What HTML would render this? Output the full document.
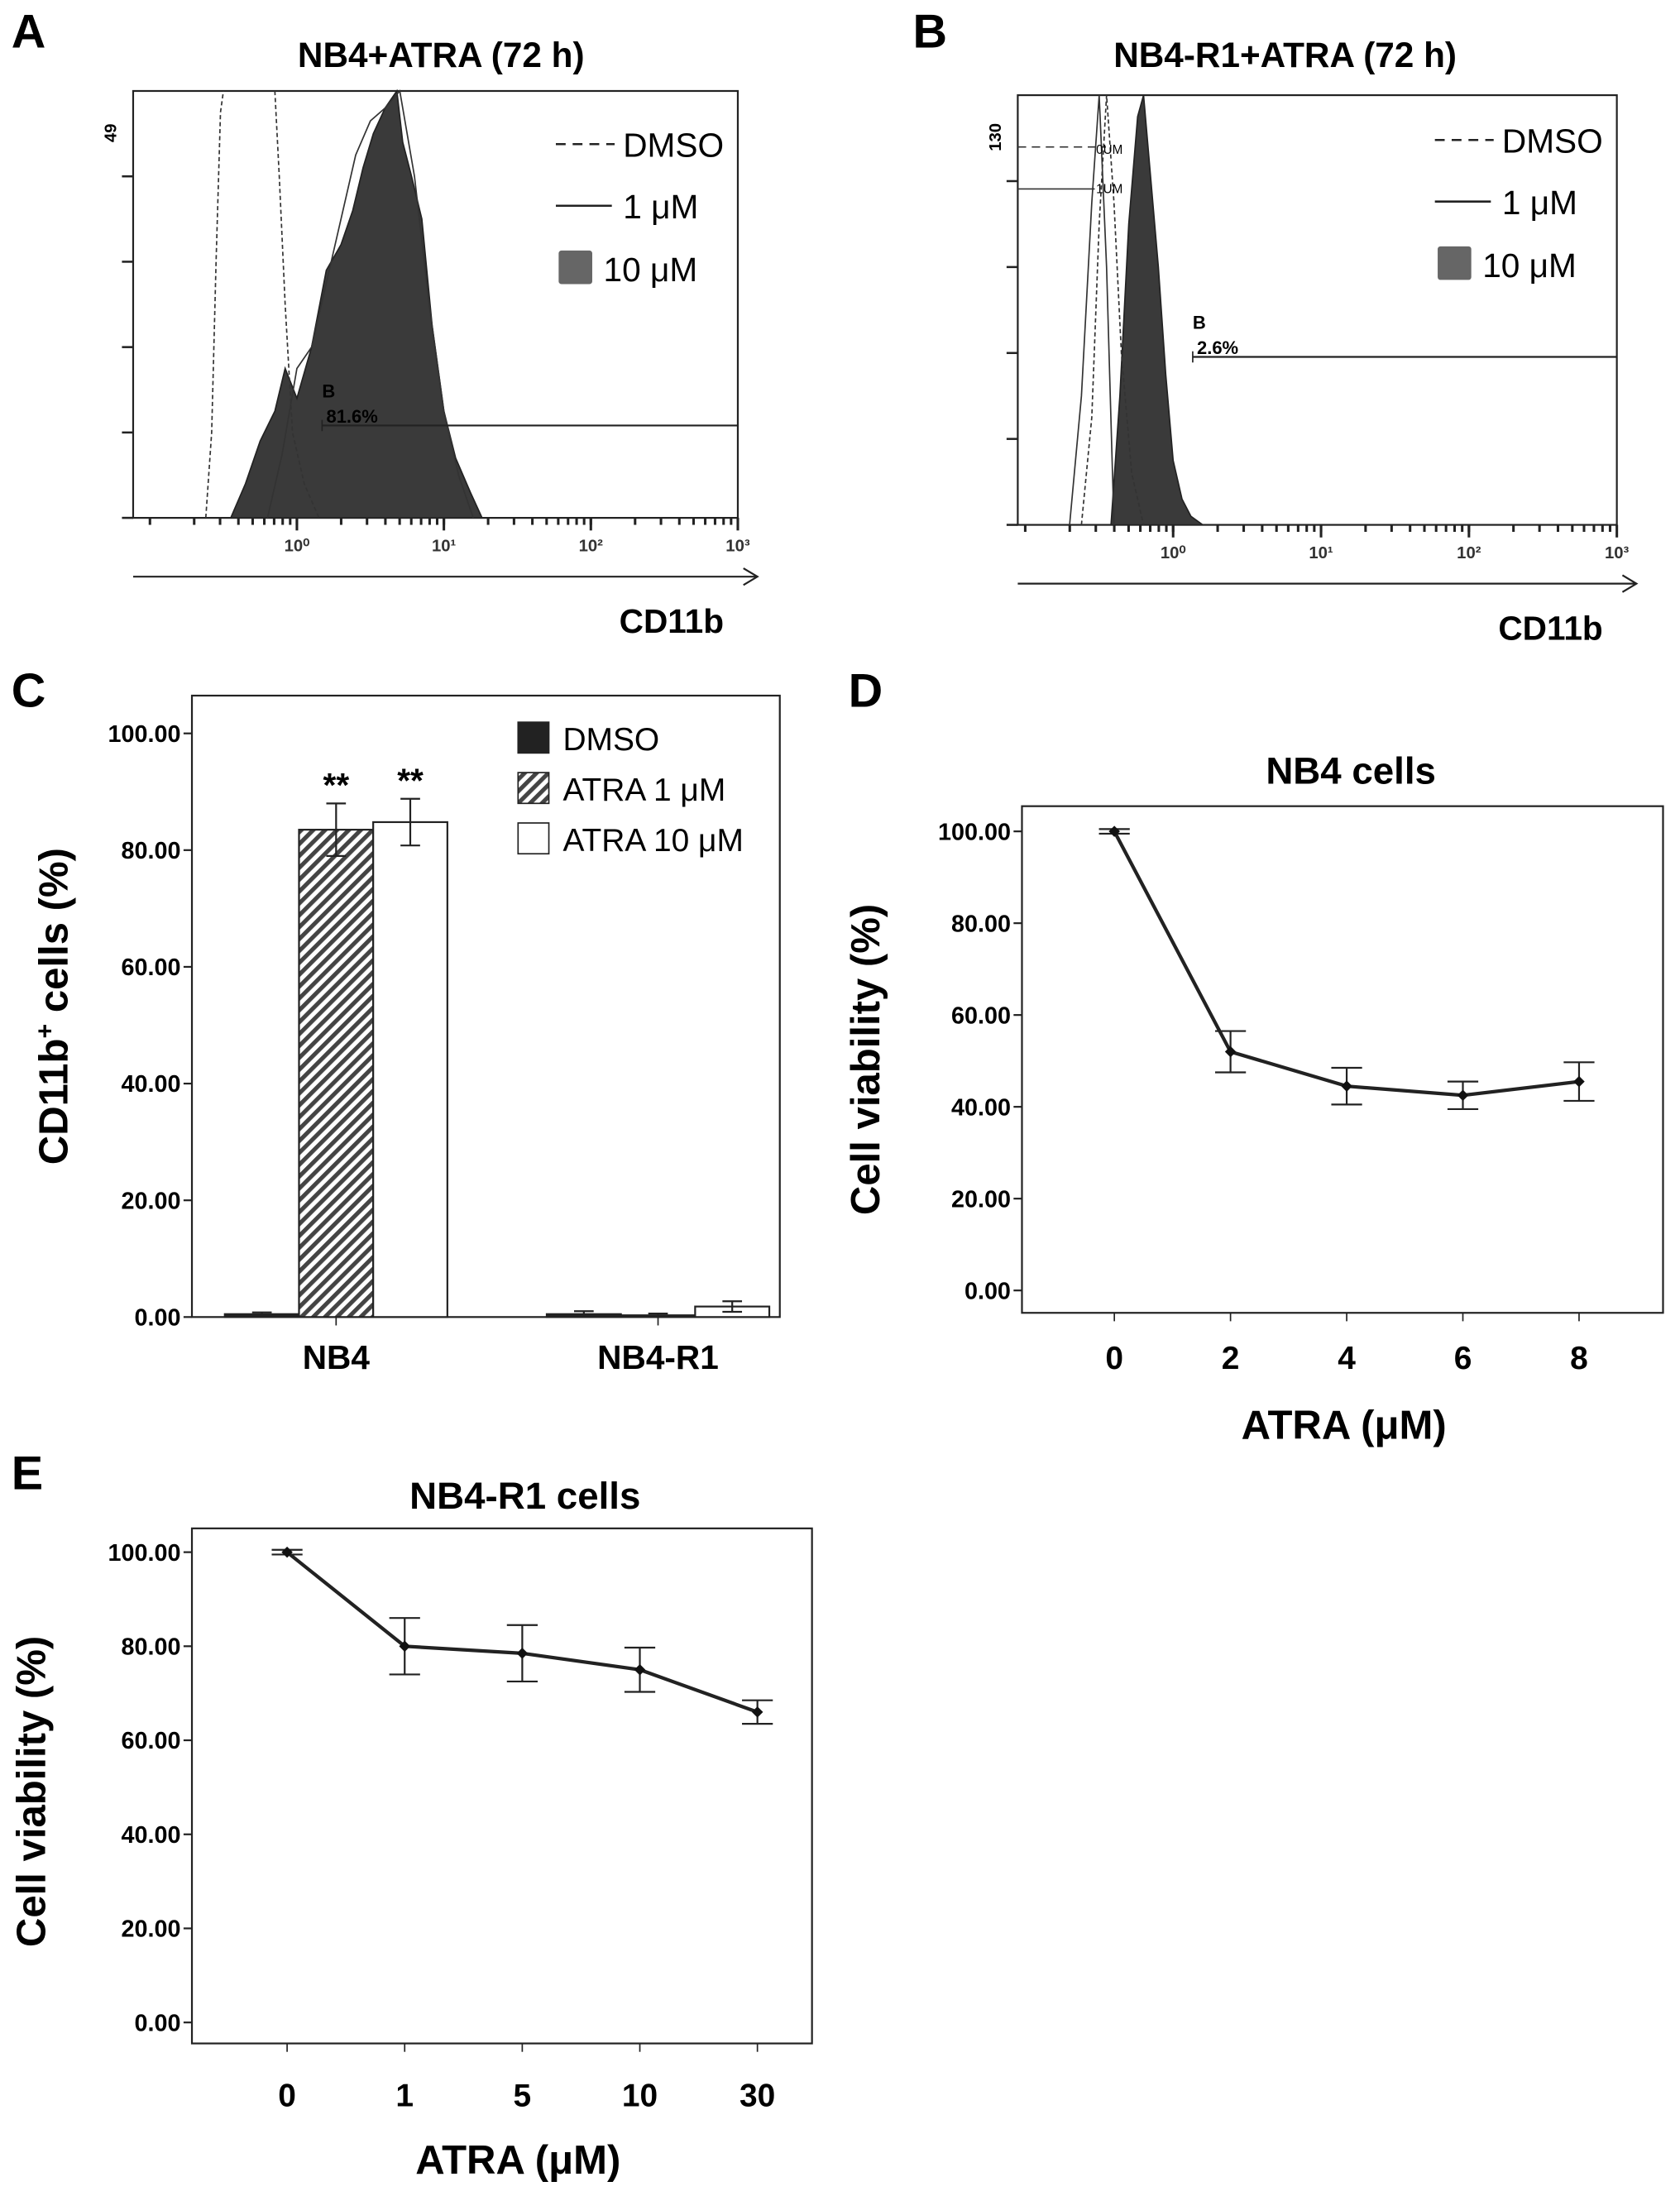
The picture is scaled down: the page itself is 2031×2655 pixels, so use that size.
<!DOCTYPE html>
<html><head><meta charset="utf-8"><style>
html,body{margin:0;padding:0;background:#fff}
svg{display:block}
text{font-family:"Liberation Sans",sans-serif}
</style></head><body>
<svg id="fig" width="2031" height="2655" viewBox="0 0 1200 1569" xmlns="http://www.w3.org/2000/svg">
<g font-weight="bold" font-size="34">
<text x="8" y="34">A</text>
<text x="652" y="34">B</text>
<text x="8" y="505">C</text>
<text x="606" y="505">D</text>
<text x="8" y="1064">E</text>
</g>
<g id="pa"></g>
<g id="pb"></g>
<g id="pc"></g>
<g id="pd"></g>
<g id="pe"></g>
</svg>
<script>
// ---- Panel A data (log10 CD11b, relative count 0-100) ----
const aFillLog=[-0.45,-0.35,-0.25,-0.15,-0.08,0.0,0.1,0.2,0.3,0.38,0.45,0.52,0.6,0.68,0.72,0.78,0.85,0.92,1.0,1.08,1.18,1.26];
const aFillCnt=[0,8,18,25,35,28,40,58,64,72,82,90,96,100,88,80,70,45,25,14,6,0];
const aOneLog=[-0.2,-0.1,0.0,0.1,0.2,0.3,0.4,0.5,0.6,0.7,0.8,0.9,1.0,1.1,1.2];
const aOneCnt=[0,15,35,40,55,70,85,93,96,100,80,50,25,10,0];
const aDmso1Log=[-0.62,-0.58,-0.55,-0.52,-0.5];
const aDmso1Cnt=[0,20,60,95,100];
const aDmso2Log=[-0.15,-0.12,-0.08,-0.03,0.05,0.15];
const aDmso2Cnt=[100,80,50,20,8,0];
// ---- Panel B data ----
const bFillLog=[-0.42,-0.36,-0.3,-0.24,-0.2,-0.15,-0.1,-0.05,0.0,0.06,0.12,0.2];
const bFillCnt=[0,30,70,95,100,80,60,35,15,6,2,0];
const bDmsoLog=[-0.62,-0.55,-0.5,-0.45,-0.4,-0.35,-0.28,-0.2];
const bDmsoCnt=[0,25,70,100,75,40,12,0];
const bOneLog=[-0.7,-0.62,-0.55,-0.5,-0.45,-0.4];
const bOneCnt=[0,30,75,100,60,0];
// ---- Panel C data ----
const cGroups=["NB4","NB4-R1"];
const cSeries=["DMSO","ATRA 1 μM","ATRA 10 μM"];
const cDmso=[0.5,0.5];
const cAtra1=[83.5,0.3];
const cAtra10=[84.8,1.8];
const cErr1=[4.5,0.3];
const cErr10=[4.0,0.9];
const cErrDmso=[0.3,0.5];
const cTicks=["0.00","20.00","40.00","60.00","80.00","100.00"];
// ---- Panel D data ----
const dX=[0,2,4,6,8];
const dY=[100,52,44.5,42.5,45.5];
const dErr=[0.5,4.5,4,3,4.2];
// ---- Panel E data ----
const eCats=["0","1","5","10","30"];
const eY=[100,80,78.5,75,66];
const eErr=[0.5,6,6,4.7,2.5];
const yTicks=[0,20,40,60,80,100];

const NS="http://www.w3.org/2000/svg";
function mk(p,tag,at,txt){const e=document.createElementNS(NS,tag);for(const k in at)e.setAttribute(k,at[k]);if(txt!==undefined)e.textContent=txt;p.appendChild(e);return e;}

function histo(g,o,fL,fC,lines,gateY,gateX,gateTxt,topLbl,legX,legY){
  const {x0,x1,y0,y1,dec0}=o;
  const dw=(x1-dec0)/3;
  const sx=l=>dec0+l*dw, sy=c=>y1-(y1-y0)*c/100;
  let r=mk(g,'rect',{x:x0,y:y0,width:x1-x0,height:y1-y0,fill:'none',stroke:'#222','stroke-width':1.3});
  
  let d='M'+sx(fL[0])+','+y1;fL.forEach((l,i)=>d+=' L'+sx(l)+','+sy(fC[i]));d+=' L'+sx(fL[fL.length-1])+','+y1+'Z';
  let p=mk(g,'path',{d:d,fill:'#3a3a3a',stroke:'#222','stroke-width':1});
  
  lines.forEach(([L,C,dash,name])=>{let dd='';L.forEach((l,i)=>dd+=(i?' L':'M')+sx(l)+','+sy(C[i]));
    let q=mk(g,'path',{d:dd,fill:'none',stroke:'#333','stroke-width':1,'stroke-dasharray':dash});
    });
  // x ticks
  for(let k=-1;k<3;k++)for(let m=1;m<=10;m++){const l=k+Math.log10(m);const x=sx(l);if(x<x0||x>x1+0.5)continue;
    mk(g,'line',{x1:x,x2:x,y1:y1,y2:y1+(m==10?9:5),stroke:'#222','stroke-width':1.8});}
  ['10⁰','10¹','10²','10³'].forEach((t,i)=>{let e=mk(g,'text',{x:sx(i),y:y1+24,'font-size':12,'text-anchor':'middle','font-weight':'bold',fill:'#333'},t);
    });
  // y ticks
  for(let i=0;i<=4;i++){const y=y1-(y1-y0)*0.2*i;mk(g,'line',{x1:x0-8,x2:x0,y1:y,y2:y,stroke:'#222','stroke-width':1.5});}
  let tl=mk(g,'text',{transform:`translate(${x0-12},${y0+30}) rotate(-90)`,'font-size':12,'font-weight':'bold','text-anchor':'middle'},topLbl);
  
  // gate
  let gl=mk(g,'line',{x1:gateX,x2:x1,y1:gateY,y2:gateY,stroke:'#222','stroke-width':1.3});
  
  mk(g,'line',{x1:gateX,x2:gateX,y1:gateY-4,y2:gateY+4,stroke:'#222','stroke-width':1});
  let gb=mk(g,'text',{x:gateX,y:gateY-20,'font-size':13,'font-weight':'bold'},'B');
  let gt=mk(g,'text',{x:gateX+3,y:gateY-2,'font-size':13,'font-weight':'bold'},gateTxt);
  // arrow
  mk(g,'line',{x1:x0,x2:x1+13,y1:y1+42,y2:y1+42,stroke:'#222','stroke-width':1.3});
  mk(g,'path',{d:`M${x1+4},${y1+36} L${x1+14},${y1+42} L${x1+4},${y1+48}`,fill:'none',stroke:'#222','stroke-width':1.3});
  let xl=mk(g,'text',{x:x1-10,y:y1+82,'font-size':24,'font-weight':'bold','text-anchor':'end'},'CD11b');
  
  // legend
  const lg=mk(g,'g',{});
  mk(lg,'line',{x1:legX,x2:legX+42,y1:legY,y2:legY,stroke:'#222','stroke-width':1.5,'stroke-dasharray':'7,5'});
  mk(lg,'text',{x:legX+48,y:legY+9,'font-size':24},'DMSO');
  mk(lg,'line',{x1:legX,x2:legX+40,y1:legY+44,y2:legY+44,stroke:'#222','stroke-width':1.5});
  mk(lg,'text',{x:legX+48,y:legY+53,'font-size':24},'1 μM');
  mk(lg,'rect',{x:legX+2,y:legY+76,width:24,height:24,fill:'#666',rx:2});
  mk(lg,'text',{x:legX+34,y:legY+98,'font-size':24},'10 μM');
}
const pa=document.getElementById('pa');
mk(pa,'text',{x:315,y:48,'font-size':25,'font-weight':'bold','text-anchor':'middle'},'NB4+ATRA (72 h)');
histo(pa,{x0:95,x1:527,y0:65,y1:370,dec0:212},aFillLog,aFillCnt,
 [[aOneLog,aOneCnt,'none','histogram-1um'],[aDmso1Log,aDmso1Cnt,'3,2','histogram-dmso'],[aDmso2Log,aDmso2Cnt,'3,2','histogram-dmso-2']],
 304,230,'81.6%','49',397,103);
const pb=document.getElementById('pb');
mk(pb,'text',{x:918,y:48,'font-size':25,'font-weight':'bold','text-anchor':'middle'},'NB4-R1+ATRA (72 h)');
histo(pb,{x0:727,x1:1155,y0:68,y1:375,dec0:838},bFillLog,bFillCnt,
 [[bDmsoLog,bDmsoCnt,'3,2','histogram-dmso'],[bOneLog,bOneCnt,'none','histogram-1um']],
 255,852,'2.6%','130',1025,100);
mk(pb,'line',{x1:727,x2:790,y1:105,y2:105,stroke:'#333','stroke-dasharray':'6,4'});
mk(pb,'text',{x:783,y:110,'font-size':9},'0UM');
mk(pb,'line',{x1:727,x2:782,y1:135,y2:135,stroke:'#333'});
mk(pb,'text',{x:783,y:138,'font-size':9},'1UM');

function frame(g,x0,y0,x1,y1,ymap,ticks,lbl,lx,ly){
  let r=mk(g,'rect',{x:x0,y:y0,width:x1-x0,height:y1-y0,fill:'none',stroke:'#222','stroke-width':1.3});
  
  ticks.forEach((t,i)=>{const y=ymap(t);mk(g,'line',{x1:x0-6,x2:x0,y1:y,y2:y,stroke:'#222','stroke-width':1.3});
    let e=mk(g,'text',{x:x0-8,y:y+6,'font-size':17,'font-weight':'bold','text-anchor':'end'},t.toFixed(2));
    });
  let yl=mk(g,'text',{transform:`translate(${lx},${ly}) rotate(-90)`,'font-size':29,'font-weight':'bold','text-anchor':'middle'},lbl);
  
}
// Panel C
const pc=document.getElementById('pc');
const cy=v=>941-4.17*v;
frame(pc,137,497,557,941,cy,yTicks,'',0,0);
let cyl=mk(pc,'text',{transform:'translate(48,719) rotate(-90)','font-size':29,'font-weight':'bold','text-anchor':'middle'});

cyl.innerHTML='CD11b<tspan dy="-10" font-size="18">+</tspan><tspan dy="10"> cells (%)</tspan>';
const defs=mk(pc,'defs',{});
const pat=mk(defs,'pattern',{id:'hatch',width:6,height:6,patternUnits:'userSpaceOnUse',patternTransform:'rotate(45)'});
mk(pat,'rect',{width:6,height:6,fill:'#fff'});mk(pat,'rect',{width:3,height:6,fill:'#444'});
const cCenters=[240,470], bw=53;
const fills=['#222','url(#hatch)','#fff'];
const vals=[cDmso,cAtra1,cAtra10], errs=[cErrDmso,cErr1,cErr10];
cGroups.forEach((gname,gi)=>{
  vals.forEach((arr,si)=>{
    const x=cCenters[gi]-bw*1.5+si*bw, v=arr[gi];
    let b=mk(pc,'rect',{x:x,y:cy(v),width:bw,height:941-cy(v),fill:fills[si],stroke:'#222','stroke-width':1.3});
    
    const e=errs[si][gi], cx=x+bw/2;
    mk(pc,'path',{d:`M${cx},${cy(v+e)} V${cy(v-e)} M${cx-7},${cy(v+e)} H${cx+7} M${cx-7},${cy(v-e)} H${cx+7}`,stroke:'#222','stroke-width':1.3,fill:'none'});
    if(gi==0&&si>0){let s=mk(pc,'text',{x:cx,y:cy(v+e)-5,'font-size':24,'font-weight':'bold','text-anchor':'middle'},'**');
      }
  });
  mk(pc,'line',{x1:cCenters[gi],x2:cCenters[gi],y1:941,y2:947,stroke:'#222'});
  let t=mk(pc,'text',{x:cCenters[gi],y:978,'font-size':24,'font-weight':'bold','text-anchor':'middle'},gname);
  
});
const cl=mk(pc,'g',{});
cSeries.forEach((s,i)=>{const y=516+i*36;
  mk(cl,'rect',{x:370,y:y,width:22,height:22,fill:fills[i],stroke:'#222'});
  mk(cl,'text',{x:402,y:y+20,'font-size':23},s);});
// line chart helper
function lineChart(g,xs,ys,es,sx,sy){
  let d='';xs.forEach((x,i)=>d+=(i?' L':'M')+sx(x,i)+','+sy(ys[i]));
  let p=mk(g,'path',{d:d,fill:'none',stroke:'#222','stroke-width':2.5});
  
  xs.forEach((x,i)=>{const px=sx(x,i),y=ys[i],e=es[i];
    mk(g,'path',{d:`M${px},${sy(y+e)} V${sy(y-e)} M${px-11},${sy(y+e)} H${px+11} M${px-11},${sy(y-e)} H${px+11}`,stroke:'#222','stroke-width':1.3,fill:'none'});
    let pt=mk(g,'path',{d:`M${px},${sy(y)-4} L${px+4},${sy(y)} L${px},${sy(y)+4} L${px-4},${sy(y)}Z`,fill:'#111'});
    });
}
// Panel D
const pd=document.getElementById('pd');
const dy=v=>922-3.28*v, dxs=x=>796+x*41.5;
frame(pd,730,576,1188,938,dy,yTicks,'Cell viability (%)',628,757);
mk(pd,'text',{x:965,y:560,'font-size':27,'font-weight':'bold','text-anchor':'middle'},'NB4 cells');
dX.forEach(x=>{mk(pd,'line',{x1:dxs(x),x2:dxs(x),y1:938,y2:944,stroke:'#222'});
  let t=mk(pd,'text',{x:dxs(x),y:978,'font-size':23,'font-weight':'bold','text-anchor':'middle'},String(x));
  });
mk(pd,'text',{x:960,y:1028,'font-size':29,'font-weight':'bold','text-anchor':'middle'},'ATRA (μM)');
lineChart(pd,dX,dY,dErr,x=>dxs(x),dy);
// Panel E
const pe=document.getElementById('pe');
const ey=v=>1445-3.36*v, exs=i=>205+i*84;
frame(pe,137,1092,580,1460,ey,yTicks,'Cell viability (%)',32,1280);
mk(pe,'text',{x:375,y:1078,'font-size':27,'font-weight':'bold','text-anchor':'middle'},'NB4-R1 cells');
eCats.forEach((c,i)=>{mk(pe,'line',{x1:exs(i),x2:exs(i),y1:1460,y2:1466,stroke:'#222'});
  let t=mk(pe,'text',{x:exs(i),y:1505,'font-size':23,'font-weight':'bold','text-anchor':'middle'},c);
  });
mk(pe,'text',{x:370,y:1553,'font-size':29,'font-weight':'bold','text-anchor':'middle'},'ATRA (μM)');
lineChart(pe,eCats,eY,eErr,(c,i)=>exs(i),ey);
</script>
</body></html>
